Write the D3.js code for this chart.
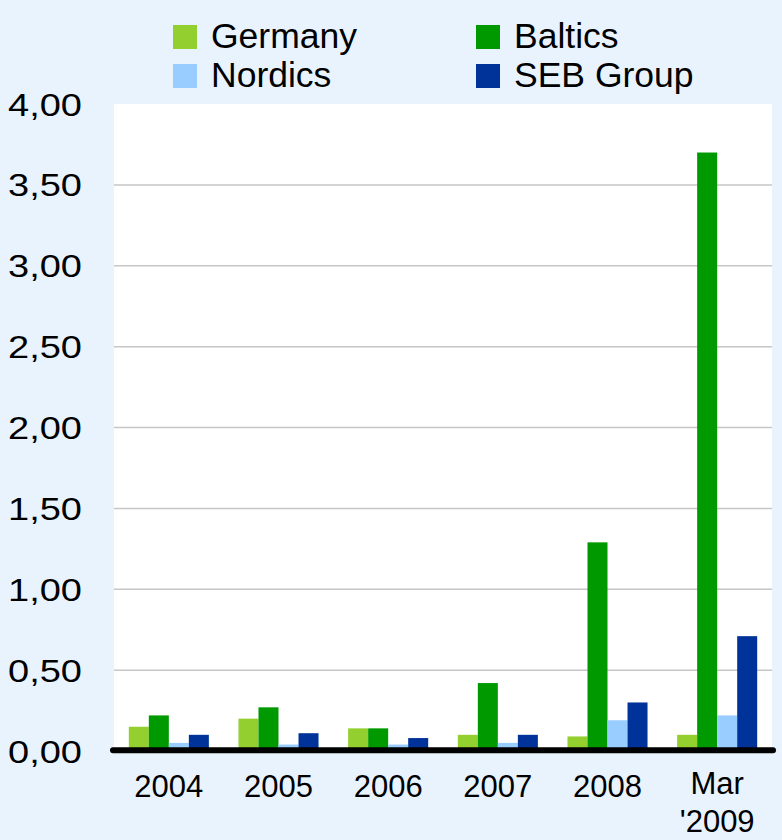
<!DOCTYPE html>
<html>
<head>
<meta charset="utf-8">
<script src="https://cdn.jsdelivr.net/npm/d3@7"></script>
<style>
  html, body { margin: 0; padding: 0; background: #e9f3fd; }
  svg { display: block; }
  text { font-family: "Liberation Sans", Arial, sans-serif; fill: #000; }
</style>
</head>
<body>
<svg id="chart" width="782" height="840"></svg>
<script>
// Loan loss level by region, per year
const categories = ["2004", "2005", "2006", "2007", "2008", "Mar\n'2009"];
const seriesNames = ["Germany", "Baltics", "Nordics", "SEB Group"];
const germany  = [0.15, 0.20, 0.14, 0.10, 0.09, 0.10];
const baltics  = [0.22, 0.27, 0.14, 0.42, 1.29, 3.70];
const nordics  = [0.05, 0.04, 0.04, 0.05, 0.19, 0.22];
const sebGroup = [0.10, 0.11, 0.08, 0.10, 0.30, 0.71];
const yTicks = [0, 0.5, 1, 1.5, 2, 2.5, 3, 3.5, 4];

const seriesValues = [germany, baltics, nordics, sebGroup];
const colors = ["#93cf2f", "#009900", "#99ccff", "#003399"];

const svg = d3.select("#chart");
const plot = { left: 114, right: 772, top: 104, bottom: 751 };

const x0 = d3.scaleBand().domain(categories).range([plot.left, plot.right]).padding(0);
const x1 = d3.scaleBand().domain(seriesNames).range([0, x0.bandwidth()])
  .paddingInner(0).paddingOuter(0.74);
const y = d3.scaleLinear().domain([0, 4]).range([plot.bottom, plot.top]);
const color = d3.scaleOrdinal().domain(seriesNames).range(colors);

// plot background
svg.append("rect")
  .attr("x", plot.left).attr("y", plot.top)
  .attr("width", plot.right - plot.left).attr("height", plot.bottom - plot.top)
  .attr("fill", "#ffffff");

// horizontal gridlines
svg.append("g").selectAll("line")
  .data(yTicks.filter(t => t > 0 && t < 4))
  .join("line")
  .attr("x1", plot.left).attr("x2", plot.right)
  .attr("y1", d => y(d)).attr("y2", d => y(d))
  .attr("stroke", "#c6c6c6").attr("stroke-width", 1.5);

// bars
const rows = categories.map((c, i) => ({
  cat: c,
  vals: seriesNames.map((s, j) => ({ key: s, value: seriesValues[j][i] }))
}));

svg.append("g").selectAll("g")
  .data(rows)
  .join("g")
  .attr("transform", d => `translate(${x0(d.cat)},0)`)
  .selectAll("rect")
  .data(d => d.vals)
  .join("rect")
  .attr("x", d => x1(d.key))
  .attr("width", x1.bandwidth())
  .attr("y", d => y(d.value))
  .attr("height", d => y(0) - y(d.value))
  .attr("fill", d => color(d.key));

// baseline
svg.append("line")
  .attr("x1", plot.left - 1).attr("x2", plot.right + 1)
  .attr("y1", 750.3).attr("y2", 750.3)
  .attr("stroke", "#000").attr("stroke-width", 6)
  .attr("stroke-linecap", "round");

// y axis labels
const yAxis = d3.axisLeft(y)
  .tickValues(yTicks)
  .tickSize(0)
  .tickPadding(0)
  .tickFormat(d => d3.format(".2f")(d).replace(".", ","));
const yg = svg.append("g").attr("transform", "translate(82,0)").call(yAxis);
yg.select(".domain").remove();
yg.selectAll("text")
  .attr("font-family", "Liberation Sans, Arial, sans-serif")
  .attr("font-size", 30.5)
  .attr("dy", null)
  .attr("y", 11)
  .attr("textLength", 74)
  .attr("lengthAdjust", "spacingAndGlyphs");

// x axis labels (two-line labels sit slightly higher to stay on the page)
const xAxis = d3.axisBottom(x0).tickSize(0).tickPadding(0).tickFormat("");
const xg = svg.append("g").call(xAxis);
xg.select(".domain").remove();
xg.selectAll(".tick").each(function(d) {
  const lines = d.split("\n");
  const t = d3.select(this).append("text")
    .attr("text-anchor", "middle")
    .attr("font-size", 31)
    .attr("y", lines.length > 1 ? 794 : 797);
  lines.forEach((line, k) => {
    t.append("tspan").attr("x", 0).attr("dy", k === 0 ? 0 : 38).text(line);
  });
});

// legend
const legendPos = [
  { x: 173, y: 25 }, { x: 476, y: 25 },
  { x: 173, y: 64 }, { x: 476, y: 64 }
];
const legend = svg.append("g").selectAll("g")
  .data(seriesNames)
  .join("g")
  .attr("transform", (d, i) => `translate(${legendPos[i].x},${legendPos[i].y})`);
legend.append("rect")
  .attr("width", 24).attr("height", 24)
  .attr("fill", d => color(d));
legend.append("text")
  .attr("x", 38).attr("y", 22.5)
  .attr("font-size", 35.5)
  .text(d => d);
</script>
</body>
</html>
